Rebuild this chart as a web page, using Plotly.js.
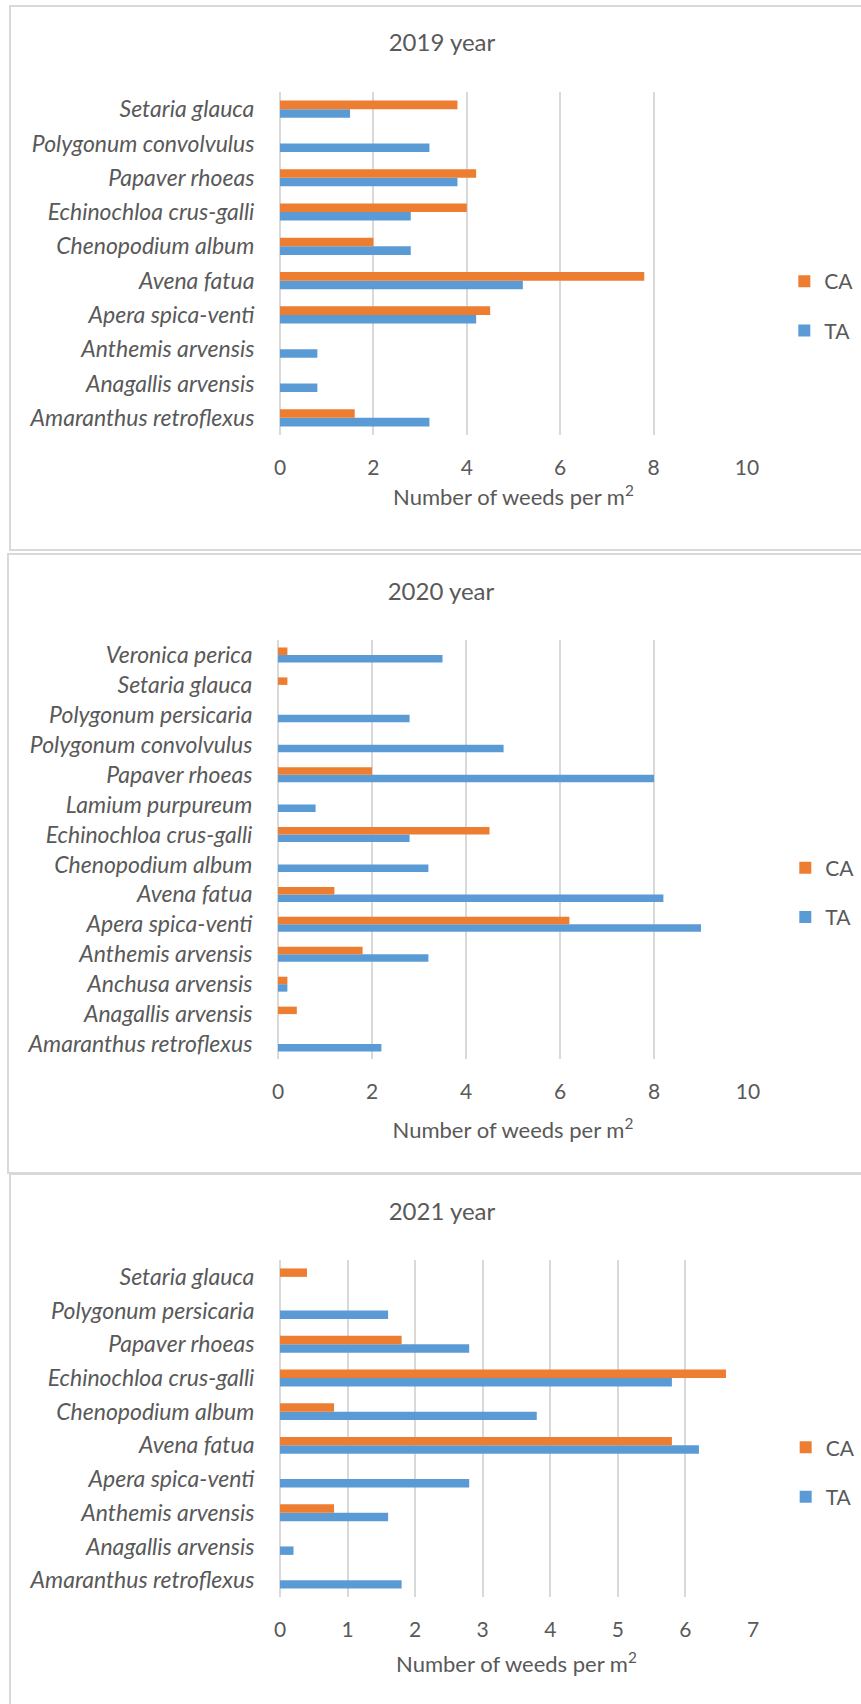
<!DOCTYPE html>
<html>
<head>
<meta charset="utf-8">
<script src="https://cdn.plot.ly/plotly-3.0.1.min.js"></script>
<style>
  html, body { margin: 0; padding: 0; background: #fff; width: 861px; height: 1704px; overflow: hidden; position: relative; }
  .plot { position: absolute; left: 0; width: 861px; }
  .frame { position: absolute; border: 2px solid #d9d9d9; background: transparent; pointer-events: none; box-sizing: content-box; }
</style>
</head>
<body>
<div id="p1" class="plot" style="top:0px;height:552px;"></div>
<div id="p2" class="plot" style="top:552px;height:622px;"></div>
<div id="p3" class="plot" style="top:1174px;height:530px;"></div>
<div class="frame" style="left:9px;top:5px;width:900px;height:542px;"></div>
<div class="frame" style="left:7px;top:553px;width:900px;height:617px;"></div>
<div class="frame" style="left:9px;top:1173px;width:900px;height:600px;"></div>
<script>
// ---------- data ----------
const species2019 = ["Amaranthus retroflexus", "Anagallis arvensis", "Anthemis arvensis", "Apera spica-venti",
  "Avena fatua", "Chenopodium album", "Echinochloa crus-galli", "Papaver rhoeas", "Polygonum convolvulus", "Setaria glauca"];
const ca2019 = [1.6, null, null, 4.5, 7.8, 2.0, 4.0, 4.2, null, 3.8];
const ta2019 = [3.2, 0.8, 0.8, 4.2, 5.2, 2.8, 2.8, 3.8, 3.2, 1.5];

const species2020 = ["Amaranthus retroflexus", "Anagallis arvensis", "Anchusa arvensis", "Anthemis arvensis",
  "Apera spica-venti", "Avena fatua", "Chenopodium album", "Echinochloa crus-galli", "Lamium purpureum",
  "Papaver rhoeas", "Polygonum convolvulus", "Polygonum persicaria", "Setaria glauca", "Veronica perica"];
const ca2020 = [null, 0.4, 0.2, 1.8, 6.2, 1.2, null, 4.5, null, 2.0, null, null, 0.2, 0.2];
const ta2020 = [2.2, null, 0.2, 3.2, 9.0, 8.2, 3.2, 2.8, 0.8, 8.0, 4.8, 2.8, null, 3.5];

const species2021 = ["Amaranthus retroflexus", "Anagallis arvensis", "Anthemis arvensis", "Apera spica-venti",
  "Avena fatua", "Chenopodium album", "Echinochloa crus-galli", "Papaver rhoeas", "Polygonum persicaria", "Setaria glauca"];
const ca2021 = [null, null, 0.8, null, 5.8, 0.8, 6.6, 1.8, null, 0.4];
const ta2021 = [1.8, 0.2, 1.6, 2.8, 6.2, 3.8, 5.8, 2.8, 1.6, null];

const titles = ["2019 year", "2020 year", "2021 year"];
const xTicks2019 = [0, 2, 4, 6, 8, 10];
const xTicks2020 = [0, 2, 4, 6, 8, 10];
const xTicks2021 = [0, 1, 2, 3, 4, 5, 6, 7];
const seriesNames = ["CA", "TA"];
const axisTitle = "Number of weeds per m<sup>2</sup>";

// ---------- style ----------
const ORANGE = "#ED7D31", BLUE = "#5B9BD5", TXT = "#595959", GRID = "#d9d9d9";
const FONT = "Lato, 'Open Sans', sans-serif";

function draw(id, H, geom, cats, ca, ta, ticks, xmax, title) {
  const plotW = 861 - geom.l - geom.r;
  const plotH = H - geom.t - geom.b;
  const traces = [
    { type: "bar", orientation: "h", name: seriesNames[1], y: cats, x: ta,
      marker: { color: BLUE, line: { width: 0 } }, legendgroup: "b", legendrank: 2, hoverinfo: "x+y" },
    { type: "bar", orientation: "h", name: seriesNames[0], y: cats, x: ca,
      marker: { color: ORANGE, line: { width: 0 } }, legendgroup: "a", legendrank: 1, hoverinfo: "x+y" }
  ];
  const layout = {
    width: 861, height: H,
    margin: { l: geom.l, r: geom.r, t: geom.t, b: geom.b, pad: 0, autoexpand: false },
    paper_bgcolor: "#fff", plot_bgcolor: "#fff",
    font: { family: FONT, color: TXT, size: 21 },
    title: { text: title, font: { family: FONT, size: 24, color: TXT },
      xref: "container", yref: "container", x: geom.titleX / 861, y: 1 - geom.titleY / H,
      xanchor: "center", yanchor: "middle" },
    barmode: "group", bargap: 0.5, bargroupgap: 0,
    xaxis: {
      range: [0, xmax], tickvals: ticks, ticktext: ticks.map(String),
      showgrid: true, gridcolor: GRID, gridwidth: 2,
      zeroline: true, zerolinecolor: GRID, zerolinewidth: 2,
      showline: false, ticks: "outside", ticklen: 14, tickcolor: "rgba(0,0,0,0)",
      tickfont: { family: FONT, size: 21, color: TXT },
      title: { text: axisTitle, font: { family: FONT, size: 22, color: TXT }, standoff: geom.standoff },
      fixedrange: true, automargin: false
    },
    yaxis: {
      type: "category", categoryorder: "array", categoryarray: cats,
      showgrid: false, zeroline: false, showline: false,
      ticks: "outside", ticklen: 20, tickcolor: "rgba(0,0,0,0)",
      tickfont: { family: FONT, size: 23, color: TXT, style: "italic" },
      fixedrange: true, automargin: false
    },
    showlegend: true,
    legend: {
      x: (geom.legX - geom.l) / plotW, xanchor: "left",
      y: (H - geom.b - geom.legY) / plotH, yanchor: "middle",
      traceorder: "grouped", tracegroupgap: 19,
      font: { family: FONT, size: 21, color: TXT },
      bgcolor: "rgba(0,0,0,0)", borderwidth: 0
    }
  };
  Plotly.newPlot(id, traces, layout, { staticPlot: true, displayModeBar: false });
}

draw("p1", 552, { l: 280, r: 114.3, t: 92, b: 117, titleX: 442, titleY: 43, legX: 784, legY: 306, standoff: 11 },
  species2019, ca2019, ta2019, xTicks2019, 10, titles[0]);
draw("p2", 622, { l: 277.7, r: 113.3, t: 88, b: 115, titleX: 441, titleY: 39.5, legX: 785, legY: 340.5, standoff: 20 },
  species2020, ca2020, ta2020, xTicks2020, 10, titles[1]);
draw("p3", 530, { l: 280, r: 107.7, t: 86, b: 107.3, titleX: 442, titleY: 38, legX: 786, legY: 298, standoff: 16 },
  species2021, ca2021, ta2021, xTicks2021, 7, titles[2]);
</script>
</body>
</html>
